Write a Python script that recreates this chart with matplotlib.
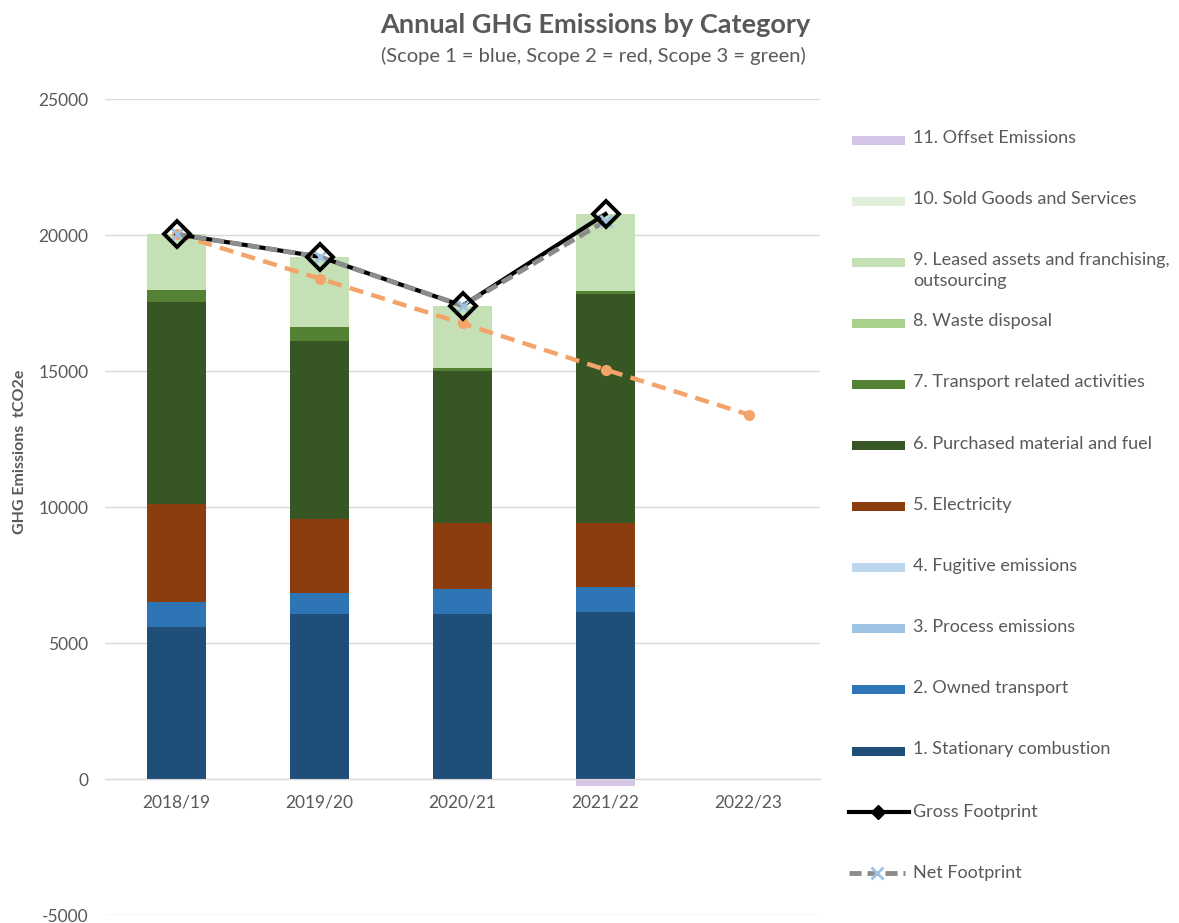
import matplotlib
matplotlib.use("Agg")
import matplotlib.pyplot as plt
from matplotlib.patches import Rectangle
from matplotlib.lines import Line2D
import numpy as np

categories = ['2018/19', '2019/20', '2020/21', '2021/22', '2022/23']
stationary = [5600, 6080, 6080, 6130, 0]
owned_transport = [900, 760, 920, 920, 0]
process = [0, 0, 0, 0, 0]
fugitive = [0, 0, 0, 0, 0]
electricity = [3600, 2720, 2420, 2370, 0]
purchased = [7450, 6540, 5570, 8420, 0]
transport_rel = [430, 520, 110, 100, 0]
waste = [0, 0, 0, 0, 0]
leased = [2050, 2580, 2300, 2830, 0]
sold = [0, 0, 0, 0, 0]
offset = [0, 0, 0, -250, 0]
gross = [20030, 19200, 17400, 20770]
net = [20030, 19200, 17400, 20520]
target = [20030, 18400, 16750, 15050, 13400]

series_labels = ['1. Stationary combustion', '2. Owned transport', '3. Process emissions',
                 '4. Fugitive emissions', '5. Electricity', '6. Purchased material and fuel',
                 '7. Transport related activities', '8. Waste disposal',
                 '9. Leased assets and franchising,\noutsourcing', '10. Sold Goods and Services',
                 '11. Offset Emissions']
series_values = [stationary, owned_transport, process, fugitive, electricity, purchased,
                 transport_rel, waste, leased, sold, offset]
colors = ['#1F4E79', '#2E75B6', '#9DC3E6', '#BDD7EE', '#8B3D0E', '#375623',
          '#548235', '#A9D18E', '#C5E0B4', '#E2EFDA', '#D5C5E6']

W, H = 1179, 923
fig = plt.figure(figsize=(W / 100, H / 100), dpi=100)
FONT = 'Lato'
plt.rcParams['font.family'] = FONT
plt.rcParams['axes.unicode_minus'] = False
TXT = '#595959'

def fx(px):
    return px / W

def fy(py):
    return 1 - py / H

ax = fig.add_axes([fx(105), fy(915), fx(820) - fx(105), fy(99) - fy(915)])
x = np.arange(len(categories))
bw = 0.41
pos_bottom = np.zeros(len(categories))
neg_bottom = np.zeros(len(categories))
for vals, c in zip(series_values, colors):
    v = np.array(vals, dtype=float)
    b = np.where(v >= 0, pos_bottom, neg_bottom)
    ax.bar(x, v, bw, bottom=b, color=c, zorder=2, linewidth=0)
    pos_bottom += np.where(v >= 0, v, 0)
    neg_bottom += np.where(v < 0, v, 0)

# target line
ax.plot(x, target, color='#F4A46A', lw=3.2, ls=(0, (3.2, 1.9)), marker='o', ms=7,
        mfc='#F4A46A', mec='#F4A46A', zorder=3)
xg = x[:len(gross)]
ax.plot(xg, gross, color='black', lw=3, zorder=4)
ax.plot(xg, net, color='#8C8C8C', lw=3.5, ls=(0, (2.5, 1.2)), marker='x', ms=9,
        mec='#9DC3E6', mew=2, zorder=5)
ax.plot(xg, gross, ls='none', marker='D', ms=13, mfc='none', mec='black', mew=2.8, zorder=6)

ax.set_xlim(-0.5, 4.5)
ax.set_ylim(-5000, 25000)
ax.set_yticks(np.arange(-5000, 25001, 5000))
ax.grid(axis='y', color='#D9D9D9', lw=1, zorder=0)
for s in ['top', 'right', 'left']:
    ax.spines[s].set_visible(False)
ax.spines['bottom'].set_position(('data', 0))
ax.spines['bottom'].set_color('#D9D9D9')
ax.set_xticks(x)
ax.set_xticklabels(categories, fontsize=12.5, color=TXT)
ax.tick_params(axis='both', length=0)
ax.tick_params(axis='x', pad=11)
ax.tick_params(axis='y', pad=12, labelsize=12.5, labelcolor=TXT)

fig.text(fx(810), fy(25), 'Annual GHG Emissions by Category', ha='right', va='center',
         fontsize=19.5, fontweight='bold', color=TXT)
fig.text(fx(806), fy(56), '(Scope 1 = blue, Scope 2 = red, Scope 3 = green)', ha='right',
         va='center', fontsize=14.5, color=TXT)
fig.text(fx(20), fy(452), 'GHG Emissions  tCO2e', rotation=90, ha='center', va='center',
         fontsize=11.5, fontweight='bold', color=TXT)

# legend (manual, matching Excel layout)
LFS = 13
leg_y = [140 + 61.1 * i for i in range(13)]
order = list(range(10, -1, -1))
for k, i in enumerate(order):
    yc = leg_y[k]
    fig.patches.append(Rectangle((fx(852), fy(yc + 4.5)), fx(53), 9 / H, transform=fig.transFigure,
                                 facecolor=colors[i], edgecolor='none'))
    fig.text(fx(913), fy(yc - 10), series_labels[i], ha='left', va='top', fontsize=LFS,
             color=TXT, linespacing=1.4)
yc = leg_y[11]
fig.lines.append(Line2D([fx(849), fx(909)], [fy(yc), fy(yc)], transform=fig.transFigure,
                        color='black', lw=3))
fig.lines.append(Line2D([fx(878)], [fy(yc)], transform=fig.transFigure, color='black',
                        marker='D', ms=7, ls='none'))
fig.text(fx(913), fy(yc), 'Gross Footprint', ha='left', va='center', fontsize=LFS, color=TXT)
yc = leg_y[12]
fig.lines.append(Line2D([fx(849), fx(905)], [fy(yc), fy(yc)], transform=fig.transFigure,
                        color='#8C8C8C', lw=3.5, ls=(0, (2.5, 1.2))))
fig.lines.append(Line2D([fx(877)], [fy(yc)], transform=fig.transFigure, color='#9DC3E6',
                        marker='x', ms=8, mew=2, ls='none'))
fig.text(fx(913), fy(yc), 'Net Footprint', ha='left', va='center', fontsize=LFS, color=TXT)

fig.savefig('out.png', dpi=100)
